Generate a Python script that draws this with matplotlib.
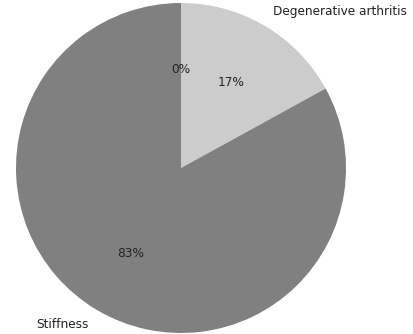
import matplotlib
matplotlib.use('Agg')
import matplotlib.pyplot as plt

# Données du graphique
labels = ['', 'Degenerative arthritis', 'Stiffness']
values = [0, 17, 83]
colors = ['#6e6e6e', '#cccccc', '#808080']

fig = plt.figure(figsize=(4.13, 3.34), dpi=100)
ax = fig.add_axes([0, 0, 1, 1])

wedges, texts, autotexts = ax.pie(values, labels=labels, colors=colors,
                                  startangle=90, counterclock=False,
                                  autopct='%1.0f%%', pctdistance=0.6,
                                  labeldistance=1.1,
                                  textprops={'fontsize': 8.7, 'color': '#222222'})

# Centre (181, 168) px, rayon 165 px
r = 165.0
ax.set_xlim(-181 / r, (413 - 181) / r)
ax.set_ylim(-(334 - 168) / r, 168 / r)
ax.set_aspect('auto')
ax.axis('off')

fig.savefig('out.png', dpi=100)
